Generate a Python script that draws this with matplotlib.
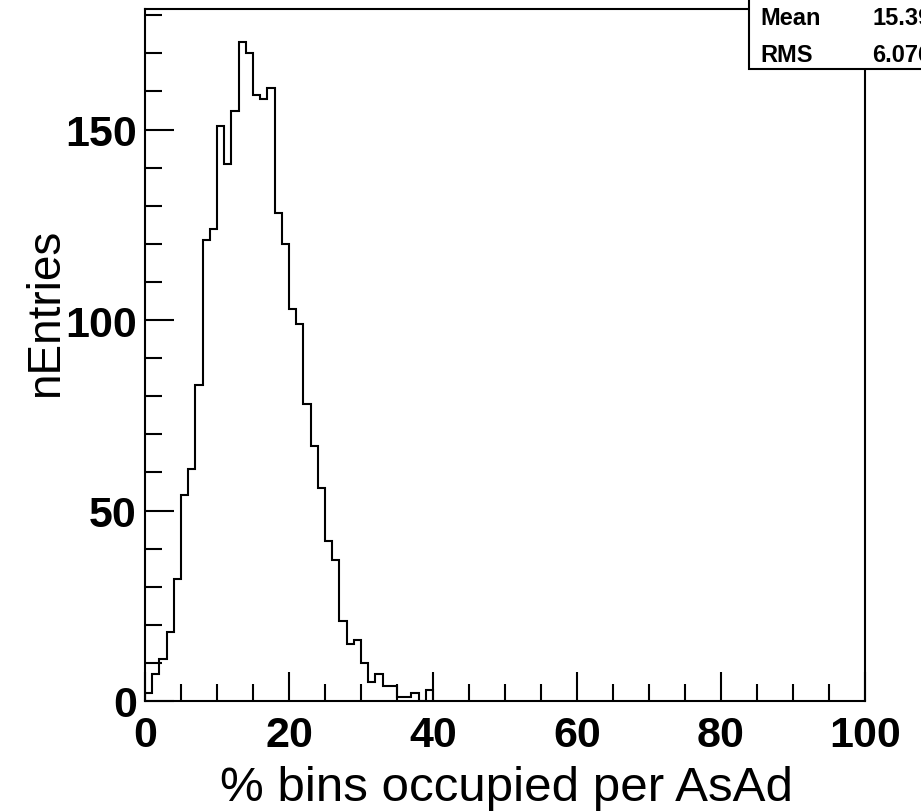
import numpy as np
import matplotlib
matplotlib.use('Agg')
import matplotlib.pyplot as plt
from matplotlib.patches import Rectangle
from matplotlib.ticker import MultipleLocator

# bin contents, 1%-wide bins starting at 0 (all bins above 40 are empty)
counts = [2, 7, 11, 18, 32, 54, 61, 83, 121, 124,
          151, 141, 155, 173, 170, 159, 158, 161, 128, 120,
          103, 99, 78, 67, 56, 42, 37, 21, 15, 16,
          10, 5, 7, 4, 4, 1, 1, 2, 0, 3]
bin_edges = np.arange(len(counts) + 1)
stat_names = ["Mean", "RMS"]
stat_values = ["15.39", "6.076"]
xlabel = "% bins occupied per AsAd"
ylabel = "nEntries"

W, H = 921, 812
fig = plt.figure(figsize=(W / 100, H / 100), dpi=100)
fig.patch.set_facecolor('white')

# frame: x 145..865 px, y 10..702 px
ax = fig.add_axes([145 / W, 1 - 702 / H, 720 / W, 692 / H])
ax.stairs(counts, bin_edges, color='black', linewidth=1.5)

ax.set_xlim(0, 100)
ax.set_ylim(0, 1.05 * max(counts))

ax.xaxis.set_major_locator(MultipleLocator(20))
ax.xaxis.set_minor_locator(MultipleLocator(5))
ax.yaxis.set_major_locator(MultipleLocator(50))
ax.yaxis.set_minor_locator(MultipleLocator(10))
ax.tick_params(which='both', direction='in', top=False, right=False,
               width=1.5, color='black')
ax.tick_params(which='major', length=21, pad=6)
ax.tick_params(which='minor', length=12)
ax.tick_params(axis='x', which='major', pad=10)

for lab in ax.get_xticklabels() + ax.get_yticklabels():
    lab.set_fontfamily('Liberation Sans')
    lab.set_fontweight('bold')
    lab.set_fontsize(31)

for sp in ax.spines.values():
    sp.set_linewidth(1.5)
    sp.set_color('black')

fig.text(506 / W, 1 - 789 / H, xlabel, ha='center', va='center',
         fontsize=35.5, family='Liberation Sans')
fig.text(46 / W, 1 - 313 / H, ylabel, ha='center', va='center',
         rotation=90, fontsize=33, family='Liberation Sans')

# stats box in the top right corner (runs off the picture, as in the original)
box = Rectangle((749 / W, 1 - 70 / H), 200 / W, 100 / H,
                transform=fig.transFigure, facecolor='white',
                edgecolor='black', linewidth=1.5, zorder=5)
fig.patches.append(box)
for i, (name, val) in enumerate(zip(stat_names, stat_values)):
    ypix = 25 + 37 * i
    fig.text(760 / W, 1 - ypix / H, name, ha='left', va='baseline',
             fontsize=17, fontweight='bold', family='Liberation Sans', zorder=6)
    fig.text(872 / W, 1 - ypix / H, val, ha='left', va='baseline',
             fontsize=17, fontweight='bold', family='Liberation Sans', zorder=6)

fig.savefig('out.png', dpi=100)
